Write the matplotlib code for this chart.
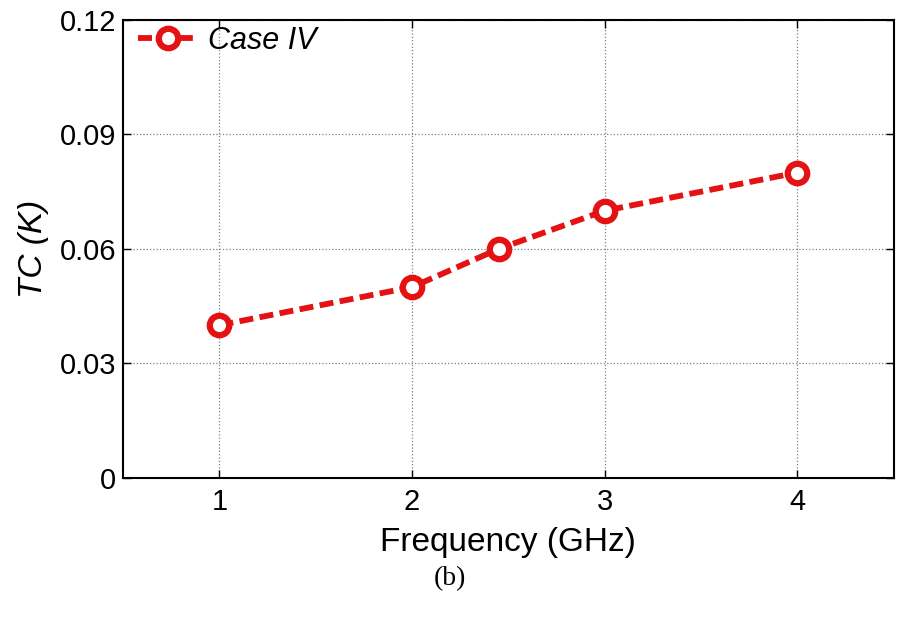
import matplotlib
matplotlib.use("Agg")
import matplotlib.pyplot as plt

freq = [1, 2, 2.45, 3, 4]
tc = [0.04, 0.05, 0.06, 0.07, 0.08]
xticks = [1, 2, 3, 4]
yticks = [0, 0.03, 0.06, 0.09, 0.12]
ytick_labels = ["0", "0.03", "0.06", "0.09", "0.12"]

plt.rcParams['font.family'] = ['Liberation Sans', 'DejaVu Sans']

fig = plt.figure(figsize=(8.99, 6.23), dpi=100)
ax = fig.add_axes([0.137, 0.233, 0.857, 0.735])

ax.plot(freq, tc, linestyle='--', color='#e41212', linewidth=4.2,
        dashes=(2.4, 1.1), marker='o', markersize=14, markerfacecolor='white',
        markeredgecolor='#e41212', markeredgewidth=4.5, label='Case IV')

ax.set_xlim(0.5, 4.5)
ax.set_ylim(0, 0.12)
ax.set_xticks(xticks)
ax.set_xticklabels([str(v) for v in xticks])
ax.set_yticks(yticks)
ax.set_yticklabels(ytick_labels)
ax.tick_params(direction='in', top=True, right=True, labelsize=21, length=6, width=1)
ax.tick_params(axis='x', pad=7)
ax.tick_params(axis='y', pad=5)
ax.grid(True, linestyle=':', color='#808080', linewidth=0.9)
for s in ax.spines.values():
    s.set_linewidth(1.5)

ax.set_xlabel('Frequency (GHz)', fontsize=24, labelpad=8)
ax.set_ylabel('TC (K)', fontsize=24, style='italic', labelpad=8)

leg = ax.legend(loc='center left', bbox_to_anchor=(0.019, 0.955), frameon=False,
                fontsize=22, handlelength=2.0, handletextpad=0.3,
                borderpad=0, borderaxespad=0)
for t in leg.get_texts():
    t.set_style('italic')

fig.text(0.5, 0.072, '(b)', ha='center', va='center', fontsize=20,
         family=['Liberation Serif', 'DejaVu Serif'])

fig.savefig('out.png', dpi=100)
